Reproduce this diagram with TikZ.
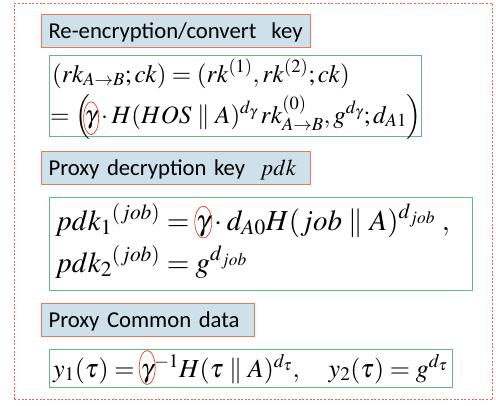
\documentclass[tikz,border=0pt]{standalone}
\usepackage{mathptmx}
\usepackage{fontspec}
\newfontfamily\titlefont{Carlito}
\usetikzlibrary{shapes.geometric}
\definecolor{titlefill}{RGB}{206,225,235}
\definecolor{titleedge}{RGB}{234,118,92}
\definecolor{formedge}{RGB}{96,186,136}
\definecolor{outeredge}{RGB}{240,98,78}
\definecolor{markedge}{RGB}{226,60,40}
\tikzset{
  titlebox/.style={draw=titleedge, fill=titlefill, line width=1.1pt,
    anchor=north west, inner xsep=7pt, inner ysep=7pt,
    text height=17pt, text depth=2pt, align=left,
    font=\titlefont\fontsize{22.7}{26}\selectfont},
  formbox/.style={draw=formedge, line width=1.1pt, anchor=north west,
    inner sep=0pt},
  formline/.style={anchor=base west, inner sep=0pt},
  fsmall/.style={font=\fontsize{25}{30}\selectfont},
  flarge/.style={font=\fontsize{29}{34}\selectfont},
  fmid/.style={font=\fontsize{26}{30}\selectfont},
  gammamark/.style={draw=markedge, ellipse, line width=0.7pt, inner sep=0pt},
}
\begin{document}
\begin{tikzpicture}[x=1pt,y=1pt]
\useasboundingbox (0,0) rectangle (496,-405);
% dashed frame round the three groups
\node[draw=outeredge, line width=0.9pt, dash pattern=on 2pt off 1.6pt,
  anchor=north west, inner sep=0pt, minimum width=478pt, minimum height=396pt]
  (frame) at (14,-3) {};

% re-encryption / convert key
\node[titlebox, text width=255pt] (t1) at (41,-14) {Re-encryption/convert\ \ key};
\node[formbox, minimum width=372pt, minimum height=81pt] (f1) at (49,-55) {};
\node[formline, fsmall] (f1a) at (52,-82)
  {$(rk_{A\to B};ck)=(rk^{(1)},rk^{(2)};ck)$};
\node[formline, fsmall] (f1b) at (50,-123) {$=\Bigl(\mkern-4mu$};
\node[formline, fsmall] (gam1) at (f1b.base east) {$\gamma$};
\node[formline, fsmall] (f1c) at (gam1.base east)
  {${}\cdot H(HOS\parallel A)^{d_\gamma}\,rk^{(0)}_{A\to B},g^{d_\gamma};d_{A1}\Bigr)$};
\node[gammamark, minimum width=15pt, minimum height=33pt, yshift=1.5pt] (g1)
  at (gam1.center) {};

% proxy decryption key
\node[titlebox, text width=255pt] (t2) at (41,-151)
  {\mbox{Proxy decryption key\ \ $pdk$}};
\node[formbox, minimum width=423pt, minimum height=93pt] (f2) at (49,-197) {};
\node[formline, flarge] (f2a) at (55,-230) {$pdk_1{}^{(job)}={}$};
\node[formline, flarge] (gam2) at (f2a.base east) {$\gamma$};
\node[formline, flarge] (f2c) at (gam2.base east)
  {${}\cdot d_{A0}H(job\parallel A)^{d_{job}}\;,$};
\node[formline, flarge] (f2b) at (55,-272) {$pdk_2{}^{(job)}=g^{d_{job}}$};
\node[gammamark, minimum width=17pt, minimum height=32pt, yshift=4pt] (g2)
  at (gam2.center) {};

% proxy common data
\node[titlebox, text width=199pt] (t3) at (41,-303) {Proxy Common data};
\node[formbox, minimum width=403pt, minimum height=38pt] (f3) at (49,-349) {};
\node[formline, fmid] (f3a) at (53,-377) {$y_1(\tau)={}$};
\node[formline, fmid] (gam3) at (f3a.base east) {$\gamma$};
\node[formline, fmid] (f3c) at (gam3.base east)
  {${}^{-1}H(\tau\parallel A)^{d_\tau},\quad y_2(\tau)=g^{d_\tau}$};
\node[gammamark, minimum width=16pt, minimum height=34pt, yshift=6pt] (g3)
  at (gam3.center) {};
\end{tikzpicture}
\end{document}
